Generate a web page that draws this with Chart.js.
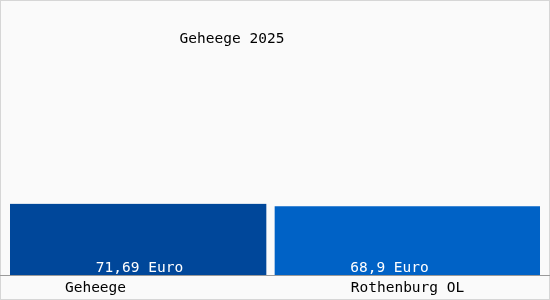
<!DOCTYPE html>
<html>
<head>
<meta charset="utf-8">
<script src="https://cdn.jsdelivr.net/npm/chart.js@4"></script>
<style>
  html, body { margin: 0; padding: 0; background: #fff; }
  canvas { display: block; }
</style>
</head>
<body>
<canvas id="chart" width="550" height="300"></canvas>
<script>
const categories = ['Geheege', 'Rothenburg OL'];
const values = [71.69, 68.9];
const valueLabels = ['71,69 Euro', '68,9 Euro'];
const title = 'Geheege 2025';

const font = '14.5px "DejaVu Sans Mono", monospace';
const bg = '#fafafa';

const frame = {
  id: 'frame',
  beforeDraw(chart) {
    const c = chart.ctx;
    c.save();
    c.fillStyle = bg;
    c.fillRect(0, 0, chart.width, chart.height);
    c.strokeStyle = '#d6d6d6';
    c.lineWidth = 1;
    c.strokeRect(0.5, 0.5, chart.width - 1, chart.height - 1);
    c.restore();
  },
  afterDatasetsDraw(chart) {
    const c = chart.ctx;
    const x = chart.scales.x;
    const y = chart.scales.y;
    const base = y.getPixelForValue(0);
    c.save();
    // axis line
    c.strokeStyle = '#9a9a9a';
    c.beginPath();
    c.moveTo(0, Math.round(base) + 0.5);
    c.lineTo(chart.width, Math.round(base) + 0.5);
    c.stroke();

    c.font = font;
    c.textAlign = 'center';
    c.textBaseline = 'alphabetic';
    // title
    c.fillStyle = '#000';
    c.fillText(title, 232, 43);
    // value labels inside bars, category labels below
    const labelShift = [-3, -18];
    const tickShift = [-47, 0];
    categories.forEach((cat, i) => {
      const px = x.getPixelForValue(i);
      c.fillStyle = '#fff';
      c.fillText(valueLabels[i], px + labelShift[i], base - 3);
      c.fillStyle = '#000';
      c.fillText(cat, px + tickShift[i], base + 17);
    });
    c.restore();
  }
};

new Chart(document.getElementById('chart'), {
  type: 'bar',
  data: {
    labels: categories,
    datasets: [{
      data: values,
      backgroundColor: ['#00479a', '#0062c6'],
      borderColor: bg,
      borderWidth: [{ right: 9 }, 0],
      borderSkipped: false,
      barPercentage: 1,
      categoryPercentage: 1
    }]
  },
  options: {
    responsive: false,
    animation: false,
    layout: { padding: { left: 10, right: 10, top: 20, bottom: 25 } },
    plugins: {
      legend: { display: false },
      title: { display: false },
      tooltip: { enabled: false }
    },
    scales: {
      x: { display: false },
      y: { display: false, min: 0, max: 257 }
    }
  },
  plugins: [frame]
});
</script>
</body>
</html>
